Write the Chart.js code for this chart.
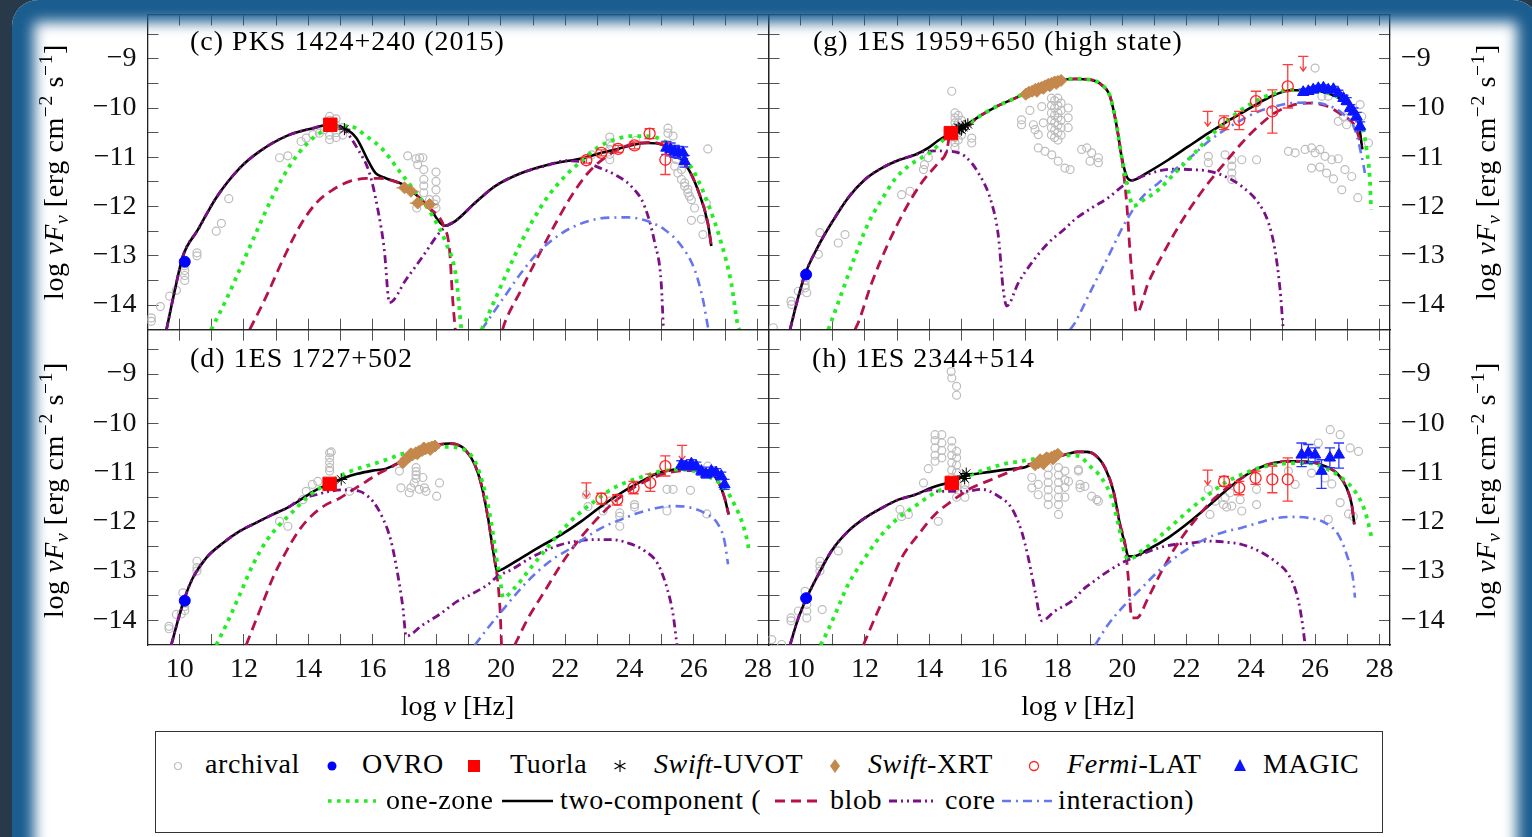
<!DOCTYPE html>
<html><head><meta charset="utf-8">
<script src="https://cdn.jsdelivr.net/npm/chart.js@4.4.1/dist/chart.umd.min.js"></script>
<style>
html,body{margin:0;padding:0;}
body{width:1532px;height:837px;overflow:hidden;position:relative;background:#28394a;font-family:"Liberation Serif","Times New Roman",serif;color:#000;}
#paper{position:absolute;left:12px;top:0;width:1527px;height:900px;background:#fff;border-radius:26px;}
#glow{position:absolute;left:12px;top:0;width:1527px;height:900px;border-radius:26px;box-shadow:inset 0 0 14px 22px #1b5d8f;pointer-events:none;z-index:50;}
canvas.panel{position:absolute;left:0;top:0;z-index:10;}
.t{position:absolute;font-size:28px;line-height:1;white-space:nowrap;z-index:20;}
.lab{letter-spacing:1px;}
.yt{transform:translate(-50%,-50%) rotate(-90deg);letter-spacing:0.6px;}
.xt{transform:translateX(-50%);}
sup,sub{font-size:0.7em;line-height:0;}
sup{vertical-align:0.55em;}
sub{vertical-align:-0.25em;}
#legbox{position:absolute;left:155px;top:731px;width:1228px;height:102px;box-sizing:border-box;border:1.5px solid #333;z-index:15;background:#fff;}
.lg{letter-spacing:0.6px;}
#legsvg{position:absolute;left:0;top:0;z-index:21;}
</style>
</head>
<body>
<div id="paper"></div>
<canvas id="cv_c" class="panel" width="1532" height="837"></canvas>
<canvas id="cv_g" class="panel" width="1532" height="837"></canvas>
<canvas id="cv_d" class="panel" width="1532" height="837"></canvas>
<canvas id="cv_h" class="panel" width="1532" height="837"></canvas>

<div class="t lab" style="left:190px;top:26.5px">(c) PKS 1424+240 (2015)</div>
<div class="t lab" style="left:813px;top:26.5px">(g) 1ES 1959+650 (high state)</div>
<div class="t lab" style="left:190px;top:344px">(d) 1ES 1727+502</div>
<div class="t lab" style="left:812px;top:344px">(h) 1ES 2344+514</div>

<div class="t yt" style="left:54px;top:172px">log <i>ν</i><i>F</i><sub><i>ν</i></sub> [erg cm<sup>−2</sup> s<sup>−1</sup>]</div>
<div class="t yt" style="left:54px;top:490px">log <i>ν</i><i>F</i><sub><i>ν</i></sub> [erg cm<sup>−2</sup> s<sup>−1</sup>]</div>
<div class="t yt" style="left:1486px;top:172px">log <i>ν</i><i>F</i><sub><i>ν</i></sub> [erg cm<sup>−2</sup> s<sup>−1</sup>]</div>
<div class="t yt" style="left:1486px;top:490px">log <i>ν</i><i>F</i><sub><i>ν</i></sub> [erg cm<sup>−2</sup> s<sup>−1</sup>]</div>

<div class="t xt" style="left:457.5px;top:691.5px">log <i>ν</i> [Hz]</div>
<div class="t xt" style="left:1078px;top:691.5px">log <i>ν</i> [Hz]</div>

<div id="legbox"></div>
<div class="t lg" style="left:205px;top:749.5px">archival</div>
<div class="t lg" style="left:362px;top:749.5px">OVRO</div>
<div class="t lg" style="left:510px;top:749.5px">Tuorla</div>
<div class="t lg" style="left:654px;top:749.5px"><i>Swift</i>-UVOT</div>
<div class="t lg" style="left:868px;top:749.5px"><i>Swift</i>-XRT</div>
<div class="t lg" style="left:1067px;top:749.5px"><i>Fermi</i>-LAT</div>
<div class="t lg" style="left:1263px;top:749.5px">MAGIC</div>
<div class="t lg" style="left:386px;top:785.5px">one-zone</div>
<div class="t lg" style="left:560px;top:785.5px">two-component (</div>
<div class="t lg" style="left:830px;top:785.5px">blob</div>
<div class="t lg" style="left:945px;top:785.5px">core</div>
<div class="t lg" style="left:1058px;top:785.5px">interaction)</div>

<svg id="legsvg" width="1532" height="837" xmlns="http://www.w3.org/2000/svg">
  <circle cx="178" cy="766" r="3.5" fill="none" stroke="#bdbdbd" stroke-width="1.2"/>
  <circle cx="332" cy="766" r="4.5" fill="#0000ff"/>
  <rect x="468" y="760" width="12" height="12" fill="#ff0000"/>
  <g stroke="#000" stroke-width="1.1"><line x1="620" y1="760" x2="620" y2="772"/><line x1="614.5" y1="763" x2="625.5" y2="769"/><line x1="614.5" y1="769" x2="625.5" y2="763"/></g>
  <polygon points="835,759 840,766 835,773 830,766" fill="#c4884c"/>
  <circle cx="1034" cy="766" r="4.5" fill="none" stroke="#ff2020" stroke-width="1.3"/>
  <polygon points="1240,759 1246,771 1234,771" fill="#0a14ff"/>
  <line x1="328" y1="801" x2="376" y2="801" stroke="#22ee22" stroke-width="3.6" stroke-dasharray="3.6 5.4"/>
  <line x1="502" y1="801" x2="553" y2="801" stroke="#000" stroke-width="2.6"/>
  <line x1="775" y1="801" x2="818" y2="801" stroke="#b5124a" stroke-width="2.8" stroke-dasharray="10 6"/>
  <line x1="889" y1="801" x2="937" y2="801" stroke="#7b0f86" stroke-width="2.8" stroke-dasharray="8 4 2 4 2 4"/>
  <line x1="1002" y1="801" x2="1052" y2="801" stroke="#6677ee" stroke-width="2.6" stroke-dasharray="9 5 2 5"/>
</svg>

<div id="glow"></div>

<script>
// ---------------- axes ----------------
const X_RANGE = [9, 28.33];
const Y_RANGE = [-14.5, -8.1];
const xTickValues = [9,10,11,12,13,14,15,16,17,18,19,20,21,22,23,24,25,26,27,28];
const xTickLabels = ['','10','','12','','14','','16','','18','','20','','22','','24','','26','','28'];
const yTickValues = [-14,-13.5,-13,-12.5,-12,-11.5,-11,-10.5,-10,-9.5,-9,-8.5];
const yTickLabels = ['\u221214','','\u221213','','\u221212','','\u221211','','\u221210','','\u22129',''];

// ---------------- panel (c) PKS 1424+240 ----------------
const c_archival = [[9.12,-14.26],[9.12,-14.33],[9.4,-14.03],[9.69,-13.82],[9.9,-13.7],[10.16,-13.2],[10.16,-13.3],[10.16,-13.4],[10.16,-13.5],[10.54,-12.94],[10.54,-13.0],[11.14,-12.5],[11.3,-12.34],[11.53,-11.84],[13.11,-11.01],[13.37,-10.97],[13.78,-10.68],[13.94,-10.61],[14.15,-10.54],[14.35,-10.51],[14.51,-10.44],[14.67,-10.17],[14.67,-10.25],[14.67,-10.4],[14.67,-10.55],[14.67,-10.64],[14.87,-10.22],[14.87,-10.35],[14.87,-10.5],[14.87,-10.6],[15.08,-10.4],[15.08,-10.55],[17.1,-10.97],[17.36,-11.03],[17.41,-11.15],[17.47,-11.01],[17.57,-11.01],[17.6,-11.25],[17.6,-11.45],[17.6,-11.58],[17.6,-11.72],[17.98,-11.3],[17.98,-11.49],[17.98,-11.66],[17.98,-11.86],[17.98,-12.03],[17.93,-11.95],[17.78,-11.86],[17.38,-12.03],[22.82,-10.95],[23.39,-10.59],[23.39,-10.71],[23.39,-10.84],[23.39,-10.94],[23.39,-11.05],[23.44,-10.77],[24.2,-10.66],[25.2,-10.41],[25.2,-10.51],[25.36,-10.57],[25.41,-11.18],[25.51,-11.32],[25.62,-11.45],[25.72,-11.59],[25.82,-11.72],[25.93,-11.86],[26.03,-12.03],[26.24,-12.26],[26.29,-12.57],[25.93,-12.28],[26.44,-10.83],[26.39,-11.93],[25.46,-11.05],[25.62,-11.25],[25.72,-11.52],[25.82,-11.65],[25.87,-11.79]];
const c_ovro = [[10.16,-13.12]];
const c_tuorla = [[14.69,-10.34]];
const c_uvot = [[15.13,-10.43]];
const c_xrt = [[17.0,-11.62],[17.2,-11.69],[17.41,-11.93],[17.78,-11.96]];
const c_fermi = [[22.66,-11.06,-11.12,-11.0],[23.13,-10.91,-10.97,-10.85],[23.65,-10.83,-10.9,-10.76],[24.16,-10.76,-10.83,-10.69],[24.63,-10.52,-10.62,-10.42],[25.12,-11.05,-11.35,-10.7]];
const c_fermiUL = [];
const c_magic = [[25.15,-10.81,-10.94,-10.68],[25.28,-10.84,-10.97,-10.71],[25.41,-10.88,-11.0,-10.76],[25.53,-10.9,-11.02,-10.78],[25.67,-10.91,-11.03,-10.79],[25.72,-11.08,-11.2,-10.96]];
const c_oneZone1 = [[10.98,-14.5],[11.45,-13.89],[11.87,-13.28],[12.38,-12.53],[12.9,-11.79],[13.42,-11.18],[13.94,-10.74],[14.46,-10.47],[14.97,-10.37],[15.29,-10.37],[15.81,-10.57],[16.32,-10.84],[16.84,-11.28],[17.36,-11.72],[17.88,-12.2],[18.29,-12.74],[18.6,-13.41],[18.77,-14.5]];
const c_oneZone2 = [[19.4,-14.5],[19.91,-13.75],[20.43,-13.0],[20.95,-12.33],[21.47,-11.79],[21.99,-11.39],[22.5,-11.08],[23.02,-10.8],[23.54,-10.64],[24.06,-10.57],[24.58,-10.57],[25.1,-10.68],[25.62,-10.95],[26.03,-11.32],[26.44,-11.93],[26.86,-12.74],[27.17,-13.55],[27.38,-14.43],[27.42,-14.5]];
const c_twoComp = [[9.59,-14.5],[9.85,-13.7],[10.1,-13.01],[10.57,-12.47],[11.14,-11.82],[11.87,-11.22],[12.49,-10.88],[13.32,-10.57],[14.15,-10.41],[14.67,-10.34],[15.13,-10.41],[15.5,-10.61],[15.9,-11.11],[16.1,-11.32],[16.4,-11.42],[16.95,-11.55],[17.36,-11.76],[17.78,-12.03],[18.24,-12.39],[18.57,-12.3],[19.19,-11.93],[19.81,-11.59],[20.64,-11.32],[21.47,-11.15],[22.61,-11.01],[23.13,-10.91],[23.65,-10.83],[24.16,-10.74],[24.58,-10.71],[25.0,-10.74],[25.41,-10.91],[25.82,-11.22],[26.13,-11.66],[26.44,-12.33],[26.55,-12.8]];
const c_blob1 = [[12.18,-14.5],[12.7,-13.82],[13.22,-13.07],[13.74,-12.4],[14.25,-11.93],[14.77,-11.66],[15.29,-11.49],[15.81,-11.43],[16.22,-11.43],[16.4,-11.44],[16.95,-11.56],[17.36,-11.76],[17.78,-12.03],[18.24,-12.42],[18.4,-12.87],[18.5,-13.89],[18.58,-14.5]];
const c_blob2 = [[20.05,-14.5],[20.12,-14.36],[20.64,-13.68],[21.16,-13.01],[21.68,-12.37],[22.19,-11.79],[22.71,-11.32],[23.23,-11.01],[23.75,-10.81],[24.27,-10.71],[24.79,-10.7],[25.0,-10.74],[25.41,-10.91],[25.82,-11.22],[26.13,-11.66],[26.44,-12.33],[26.55,-12.8]];
const c_core = [[9.59,-14.5],[9.85,-13.7],[10.1,-13.01],[10.57,-12.47],[11.14,-11.82],[11.87,-11.22],[12.49,-10.88],[13.32,-10.57],[14.15,-10.41],[14.67,-10.35],[15.1,-10.43],[15.55,-10.84],[15.91,-11.32],[16.17,-12.06],[16.37,-12.87],[16.53,-13.95],[17.05,-13.48],[17.57,-13.01],[18.09,-12.53],[18.35,-12.38],[18.57,-12.3],[19.19,-11.93],[19.81,-11.59],[20.64,-11.32],[21.47,-11.16],[21.99,-11.07],[22.66,-11.11],[23.02,-11.2],[23.54,-11.35],[24.06,-11.59],[24.47,-11.99],[24.79,-12.74],[24.99,-13.55],[25.06,-14.5]];
const c_interaction = [[19.4,-14.5],[20.12,-13.82],[20.64,-13.34],[21.16,-12.93],[21.68,-12.64],[22.19,-12.43],[22.71,-12.3],[23.23,-12.23],[23.96,-12.22],[24.58,-12.3],[25.1,-12.47],[25.62,-12.8],[26.03,-13.28],[26.29,-13.89],[26.44,-14.43],[26.46,-14.5]];

// ---------------- panel (g) 1ES 1959+650 ----------------
const g_archival = [[9.15,-14.46],[9.7,-13.92],[9.72,-13.99],[9.93,-13.72],[10.19,-13.75],[10.14,-13.5],[10.14,-13.6],[10.14,-13.65],[10.55,-12.97],[10.6,-12.53],[11.17,-12.74],[11.38,-12.57],[13.14,-11.76],[13.4,-11.69],[13.82,-11.25],[13.85,-11.15],[13.97,-11.01],[14.7,-9.66],[14.8,-10.1],[14.8,-10.2],[14.8,-10.3],[14.8,-10.4],[14.8,-10.5],[14.8,-10.6],[14.8,-10.7],[14.8,-10.8],[14.9,-10.15],[14.9,-10.3],[14.9,-10.5],[14.9,-10.65],[15.0,-10.25],[15.0,-10.55],[15.32,-10.61],[15.32,-10.71],[16.87,-10.24],[16.87,-10.34],[17.13,-10.05],[17.24,-10.34],[17.29,-10.44],[17.39,-10.54],[17.5,-9.97],[17.55,-10.3],[17.8,-9.8],[17.8,-9.95],[17.8,-10.1],[17.8,-10.25],[17.8,-10.4],[17.8,-10.55],[17.9,-9.85],[17.9,-10.0],[17.9,-10.15],[17.9,-10.3],[17.9,-10.45],[17.9,-10.6],[18.0,-9.8],[18.0,-9.95],[18.0,-10.1],[18.0,-10.2],[18.0,-10.35],[18.0,-10.5],[18.0,-10.65],[18.1,-9.9],[18.1,-10.05],[18.1,-10.25],[18.1,-10.4],[18.1,-10.55],[18.32,-10.0],[18.32,-10.2],[18.32,-10.4],[17.39,-10.81],[17.6,-10.88],[17.81,-10.95],[18.01,-11.08],[18.22,-11.22],[18.38,-11.25],[18.74,-10.84],[18.9,-10.81],[19.05,-10.91],[19.0,-11.08],[19.26,-11.01],[19.26,-11.11],[22.68,-10.98],[22.68,-11.11],[23.2,-10.95],[23.41,-11.05],[23.41,-11.18],[23.41,-11.32],[23.41,-11.45],[23.72,-11.05],[24.18,-11.05],[25.17,-10.88],[25.38,-10.91],[25.69,-10.84],[25.89,-10.81],[26.0,-10.91],[26.15,-10.84],[26.31,-10.98],[26.52,-11.05],[26.72,-11.03],[25.89,-11.22],[26.15,-11.2],[26.36,-11.32],[26.57,-11.44],[26.93,-11.25],[27.14,-11.39],[26.83,-11.66],[27.33,-11.82],[26.72,-10.27],[26.88,-10.17],[26.98,-10.34],[27.14,-10.07],[27.4,-9.93],[27.45,-10.17],[27.66,-10.71],[26.0,-9.19],[26.21,-9.76],[26.41,-9.76]];
const g_ovro = [[10.17,-13.38]];
const g_tuorla = [[14.67,-10.51]];
const g_uvot = [[14.75,-10.49],[14.85,-10.45],[14.95,-10.42],[15.05,-10.39],[15.13,-10.36],[15.2,-10.33],[14.9,-10.4],[15.0,-10.44]];
const g_xrt = [[17.0,-9.72],[17.1,-9.68],[17.2,-9.66],[17.3,-9.62],[17.4,-9.6],[17.5,-9.58],[17.6,-9.55],[17.7,-9.52],[17.8,-9.5],[17.9,-9.47],[18.0,-9.46],[18.1,-9.44],[17.35,-9.66],[17.55,-9.6],[17.75,-9.55],[17.95,-9.5]];
const g_fermi = [[23.17,-10.3,-10.44,-10.16],[23.64,-10.24,-10.44,-10.07],[24.16,-9.86,-10.07,-9.66],[24.67,-10.07,-10.51,-9.63],[25.15,-9.56,-10.0,-9.12]];
const g_fermiUL = [[22.66,-10.07],[25.63,-8.95]];
const g_magic = [[25.63,-9.68,-9.74,-9.62],[25.79,-9.66,-9.72,-9.6],[25.94,-9.63,-9.69,-9.57],[26.1,-9.6,-9.66,-9.54],[26.26,-9.59,-9.65,-9.53],[26.41,-9.63,-9.69,-9.57],[26.57,-9.62,-9.68,-9.56],[26.72,-9.7,-9.76,-9.64],[26.88,-9.8,-9.86,-9.74],[26.98,-9.86,-9.93,-9.79],[27.09,-10.0,-10.07,-9.93],[27.19,-10.07,-10.14,-10.0],[27.29,-10.17,-10.25,-10.09],[27.4,-10.37,-10.46,-10.28]];
const g_oneZone1 = [[10.86,-14.5],[11.28,-13.75],[11.69,-13.01],[12.11,-12.33],[12.52,-11.86],[12.93,-11.45],[13.35,-11.18],[13.76,-11.01],[14.07,-10.88],[14.39,-10.68],[14.7,-10.47],[15.11,-10.36],[15.63,-10.14],[16.15,-9.95],[16.67,-9.8],[17.08,-9.66],[17.5,-9.56],[18.01,-9.44],[18.53,-9.41],[19.05,-9.43],[19.36,-9.53],[19.62,-9.76],[19.83,-10.37],[19.98,-10.98],[20.14,-11.52],[20.35,-11.99],[20.61,-11.89],[21.13,-11.66],[21.64,-11.32],[22.16,-10.98],[22.68,-10.61],[23.2,-10.3],[23.72,-10.03],[24.24,-9.83],[24.75,-9.7],[25.27,-9.63],[25.79,-9.64],[26.31,-9.68],[26.83,-9.83],[27.24,-10.1],[27.5,-10.44],[27.6,-10.84],[27.71,-11.52],[27.74,-12.06]];
const g_oneZone2 = [];
const g_twoComp = [[9.67,-14.5],[9.88,-13.95],[10.135,-13.38],[10.55,-12.8],[10.965,-12.33],[11.48,-11.82],[12.0,-11.45],[12.52,-11.22],[13.04,-11.06],[13.56,-10.95],[13.97,-10.81],[14.28,-10.66],[14.59,-10.54],[15.11,-10.36],[15.63,-10.14],[16.15,-9.95],[16.67,-9.8],[17.08,-9.66],[17.5,-9.56],[18.01,-9.44],[18.53,-9.41],[19.05,-9.43],[19.36,-9.53],[19.62,-9.76],[19.83,-10.37],[19.98,-10.98],[20.14,-11.39],[20.3,-11.47],[20.81,-11.3],[21.44,-11.05],[22.06,-10.78],[22.68,-10.51],[23.2,-10.3],[23.72,-10.1],[24.24,-9.9],[24.75,-9.73],[25.27,-9.64],[25.79,-9.64],[26.31,-9.68],[26.83,-9.83],[27.14,-10.0],[27.35,-10.3],[27.47,-10.84]];
const g_blob1 = [[11.69,-14.5],[11.79,-14.36],[12.21,-13.55],[12.73,-12.74],[13.25,-12.06],[13.76,-11.52],[14.28,-11.11],[14.54,-10.88],[14.65,-10.52],[15.11,-10.37],[15.63,-10.14],[16.15,-9.95],[16.67,-9.8],[17.08,-9.66],[17.5,-9.56],[18.01,-9.44],[18.53,-9.41],[19.05,-9.43],[19.36,-9.53],[19.62,-9.76],[19.83,-10.37],[19.98,-10.98],[20.14,-11.93],[20.24,-12.87],[20.35,-13.68],[20.45,-14.16],[20.81,-13.55],[21.23,-13.01],[21.64,-12.53],[22.16,-11.99],[22.68,-11.52],[23.2,-11.11],[23.72,-10.71],[24.24,-10.37],[24.75,-10.1],[25.27,-9.95],[25.79,-9.9],[26.31,-9.95],[26.83,-10.14],[27.24,-10.37],[27.45,-10.78]];
const g_blob2 = [];
const g_core = [[9.67,-14.5],[9.88,-13.95],[10.135,-13.38],[10.55,-12.8],[10.965,-12.33],[11.48,-11.82],[12.0,-11.45],[12.52,-11.22],[13.04,-11.06],[13.56,-10.95],[13.87,-10.88],[14.28,-10.87],[14.7,-10.88],[15.11,-10.98],[15.53,-11.32],[15.94,-11.93],[16.15,-12.6],[16.3,-13.68],[16.41,-14.02],[16.77,-13.55],[17.19,-13.14],[17.7,-12.74],[18.22,-12.45],[18.53,-12.26],[19.05,-12.03],[19.57,-11.82],[20.09,-11.55],[20.61,-11.39],[21.13,-11.28],[21.64,-11.24],[22.16,-11.25],[22.68,-11.28],[23.2,-11.39],[23.72,-11.59],[24.24,-11.93],[24.55,-12.33],[24.75,-12.87],[24.91,-13.68],[25.01,-14.5]];
const g_interaction = [[18.38,-14.5],[18.53,-14.36],[19.05,-13.68],[19.57,-13.01],[20.09,-12.33],[20.61,-11.82],[21.13,-11.52],[21.64,-11.25],[22.16,-10.98],[22.68,-10.68],[23.2,-10.44],[23.72,-10.24],[24.24,-10.07],[24.75,-9.97],[25.27,-9.9],[25.79,-9.89],[26.31,-9.93],[26.83,-10.1],[27.24,-10.44],[27.45,-10.98],[27.55,-11.32]];

// ---------------- panel (d) 1ES 1727+502 ----------------
const d_archival = [[9.67,-14.12],[9.67,-14.17],[9.9,-13.88],[10.05,-13.87],[10.1,-13.44],[10.16,-13.65],[10.16,-13.72],[10.16,-13.8],[10.54,-12.8],[10.54,-12.93],[10.54,-13.0],[13.11,-11.99],[13.37,-12.09],[13.84,-11.55],[13.94,-11.38],[14.13,-11.24],[14.3,-11.18],[14.67,-10.6],[14.67,-10.7],[14.67,-10.8],[14.67,-10.9],[14.67,-10.97],[14.72,-10.58],[15.29,-11.38],[16.84,-10.97],[16.89,-11.31],[17.15,-11.41],[17.3,-11.21],[17.36,-10.9],[17.36,-10.98],[17.36,-11.05],[17.36,-11.12],[17.46,-11.34],[17.57,-11.1],[17.62,-11.31],[17.67,-11.38],[18.09,-11.21],[18.0,-11.48],[17.2,-11.31],[22.66,-11.45],[22.71,-11.69],[23.18,-11.78],[23.39,-11.58],[23.7,-11.82],[23.7,-11.89],[23.7,-12.09],[24.16,-11.65],[24.16,-11.7],[25.17,-11.34],[25.36,-11.34],[25.17,-11.78],[25.9,-11.36],[26.41,-11.84],[26.44,-10.87]];
const d_ovro = [[10.16,-13.6]];
const d_tuorla = [[14.67,-11.23]];
const d_uvot = [[15.03,-11.14]];
const d_xrt = [[16.95,-10.8],[17.05,-10.72],[17.15,-10.68],[17.25,-10.64],[17.35,-10.6],[17.45,-10.57],[17.55,-10.55],[17.65,-10.52],[17.75,-10.5],[17.85,-10.48],[17.95,-10.46],[17.2,-10.62],[17.4,-10.62],[17.6,-10.5],[17.8,-10.53]];
const d_fermi = [[23.13,-11.53,-11.64,-11.42],[23.62,-11.55,-11.66,-11.45],[24.13,-11.31,-11.43,-11.18],[24.65,-11.21,-11.38,-11.03],[25.12,-10.87,-11.07,-10.66]];
const d_fermiUL = [[22.66,-11.21],[25.64,-10.45]];
const d_magic = [[25.62,-10.84,-10.92,-10.76],[25.77,-10.87,-10.95,-10.79],[25.93,-10.82,-10.9,-10.74],[26.08,-10.87,-10.95,-10.79],[26.24,-10.97,-11.05,-10.89],[26.39,-11.03,-11.11,-10.95],[26.55,-10.97,-11.05,-10.89],[26.7,-11.0,-11.08,-10.92],[26.86,-11.07,-11.15,-10.99],[26.96,-11.24,-11.34,-11.14]];
const d_oneZone1 = [[11.14,-14.5],[11.45,-14.09],[11.87,-13.48],[12.28,-12.87],[12.7,-12.39],[13.11,-12.06],[13.53,-11.79],[13.94,-11.52],[14.35,-11.32],[14.77,-11.15],[15.18,-11.01],[15.6,-10.91],[16.01,-10.83],[16.43,-10.74],[16.84,-10.64],[17.36,-10.54],[17.88,-10.49],[18.4,-10.48],[18.7,-10.5],[19.19,-10.77],[19.5,-11.38],[19.71,-12.05],[19.86,-12.73],[19.97,-13.14],[20.07,-13.54],[20.43,-13.34],[20.85,-13.0],[21.36,-12.59],[21.88,-12.19],[22.4,-11.85],[22.92,-11.58],[23.44,-11.34],[23.96,-11.18],[24.48,-11.07],[25.0,-10.97],[25.51,-10.94],[26.03,-10.97],[26.55,-11.11],[26.96,-11.31],[27.27,-11.65],[27.53,-12.05],[27.69,-12.46],[27.72,-12.59]];
const d_oneZone2 = [];
const d_twoComp = [[9.74,-14.5],[10.0,-13.88],[10.16,-13.54],[10.41,-13.14],[10.83,-12.73],[11.35,-12.43],[11.87,-12.19],[12.38,-12.02],[12.9,-11.85],[13.42,-11.69],[13.84,-11.52],[14.25,-11.35],[14.67,-11.23],[15.08,-11.12],[15.5,-11.03],[16.01,-10.96],[16.43,-10.92],[16.79,-10.81],[17.05,-10.67],[17.57,-10.52],[18.09,-10.43],[18.4,-10.41],[18.71,-10.45],[18.88,-10.53],[19.19,-10.84],[19.39,-11.24],[19.6,-11.92],[19.76,-12.59],[19.89,-13.0],[20.02,-12.97],[20.64,-12.73],[21.26,-12.49],[21.88,-12.26],[22.5,-11.99],[23.13,-11.68],[23.75,-11.41],[24.37,-11.18],[24.89,-11.01],[25.41,-10.94],[25.93,-10.92],[26.46,-10.97],[26.76,-11.18],[26.96,-11.51],[27.09,-11.85]];
const d_blob1 = [[12.07,-14.5],[12.49,-13.81],[12.9,-13.14],[13.32,-12.6],[13.73,-12.16],[14.15,-11.85],[14.56,-11.65],[14.98,-11.52],[15.39,-11.35],[15.81,-11.18],[16.22,-11.01],[16.64,-10.87],[16.95,-10.74],[17.05,-10.67],[17.57,-10.52],[18.09,-10.43],[18.4,-10.41],[18.71,-10.45],[18.88,-10.53],[19.19,-10.84],[19.39,-11.24],[19.6,-11.92],[19.76,-12.59],[19.89,-13.14],[19.97,-13.74],[20.02,-14.5]];
const d_blob2 = [[20.43,-14.5],[20.85,-13.95],[21.36,-13.41],[21.88,-12.86],[22.4,-12.39],[22.92,-11.99],[23.44,-11.65],[23.96,-11.38],[24.48,-11.18],[25.0,-11.04],[25.51,-10.97],[26.03,-10.96],[26.46,-10.97],[26.76,-11.18],[26.96,-11.51],[27.09,-11.85]];
const d_core = [[9.74,-14.5],[10.0,-13.88],[10.16,-13.54],[10.41,-13.14],[10.83,-12.73],[11.35,-12.43],[11.87,-12.19],[12.38,-12.02],[12.9,-11.85],[13.42,-11.69],[13.73,-11.55],[14.25,-11.45],[14.67,-11.38],[15.18,-11.35],[15.6,-11.38],[16.01,-11.58],[16.32,-11.92],[16.58,-12.39],[16.79,-13.07],[16.95,-13.74],[17.05,-14.32],[17.57,-14.09],[18.09,-13.88],[18.65,-13.61],[19.08,-13.47],[19.6,-13.27],[19.91,-13.1],[20.33,-12.97],[20.85,-12.76],[21.36,-12.59],[21.88,-12.46],[22.4,-12.39],[22.92,-12.36],[23.44,-12.36],[23.96,-12.43],[24.48,-12.59],[24.89,-12.86],[25.2,-13.41],[25.36,-13.88],[25.46,-14.39],[25.48,-14.5]];
const d_interaction = [[19.19,-14.5],[19.6,-14.15],[20.12,-13.74],[20.64,-13.34],[21.16,-13.0],[21.68,-12.73],[22.19,-12.53],[22.71,-12.29],[23.23,-12.09],[23.75,-11.95],[24.27,-11.82],[24.79,-11.73],[25.3,-11.68],[25.82,-11.7],[26.34,-11.82],[26.76,-12.05],[26.96,-12.39],[27.07,-12.86]];

// ---------------- panel (h) 1ES 2344+514 ----------------
const h_archival = [[9.1,-14.39],[9.41,-14.49],[9.7,-13.95],[9.7,-14.01],[9.93,-13.81],[10.19,-13.68],[10.19,-13.81],[10.19,-13.95],[10.14,-13.41],[10.6,-12.8],[10.6,-12.9],[10.6,-13.0],[10.67,-13.78],[11.17,-12.59],[13.09,-11.75],[13.35,-11.85],[13.14,-11.89],[13.82,-11.21],[13.97,-10.92],[14.28,-11.99],[14.18,-10.23],[14.18,-10.35],[14.18,-10.5],[14.18,-10.65],[14.18,-10.77],[14.39,-10.23],[14.39,-10.4],[14.39,-10.55],[14.39,-10.7],[14.7,-10.36],[14.7,-10.5],[14.7,-10.65],[14.7,-10.8],[14.7,-10.95],[14.7,-11.1],[14.85,-10.57],[14.85,-10.7],[14.85,-10.85],[14.85,-11.0],[14.85,-11.15],[14.85,-11.3],[14.85,-11.5],[15.11,-11.24],[15.11,-11.35],[15.11,-11.5],[14.68,-8.95],[14.7,-9.08],[14.85,-9.25],[14.85,-9.43],[17.19,-11.1],[17.19,-11.31],[17.39,-11.24],[17.39,-11.45],[17.7,-10.9],[17.7,-11.05],[17.7,-11.2],[17.7,-11.35],[17.7,-11.5],[17.7,-11.65],[18.02,-10.9],[18.02,-11.05],[18.02,-11.2],[18.02,-11.35],[18.02,-11.5],[18.02,-11.65],[18.02,-11.85],[18.22,-10.97],[18.22,-11.15],[18.22,-11.3],[18.22,-11.5],[18.33,-11.18],[18.64,-10.97],[18.69,-11.31],[18.84,-11.28],[18.64,-10.94],[18.69,-11.24],[19.05,-11.48],[19.21,-11.55],[19.26,-11.58],[22.68,-11.34],[22.73,-11.85],[22.89,-11.58],[23.15,-11.65],[23.2,-11.51],[23.25,-11.7],[23.35,-11.41],[23.41,-11.68],[23.67,-11.55],[23.72,-11.78],[24.18,-11.34],[24.18,-11.65],[25.17,-10.97],[25.38,-11.24],[25.89,-11.01],[26.1,-10.4],[26.31,-11.11],[26.52,-11.23],[26.47,-10.13],[26.78,-10.23],[27.09,-10.5],[27.35,-10.57],[26.78,-11.61],[26.41,-11.95],[27.04,-11.84],[27.19,-11.89]];
const h_ovro = [[10.17,-13.55]];
const h_tuorla = [[14.7,-11.21]];
const h_uvot = [[15.05,-11.07],[15.15,-11.02],[15.1,-11.12],[14.72,-11.21]];
const h_xrt = [[17.29,-10.84],[17.4,-10.8],[17.5,-10.77],[17.6,-10.74],[17.7,-10.72],[17.8,-10.69],[17.9,-10.66],[18.0,-10.63],[17.45,-10.74],[17.65,-10.7],[17.85,-10.72],[17.55,-10.82]];
const h_fermi = [[23.17,-11.18,-11.28,-11.08],[23.64,-11.31,-11.45,-11.18],[24.15,-11.11,-11.24,-10.97],[24.67,-11.14,-11.41,-10.87],[25.15,-11.14,-11.58,-10.7]];
const h_fermiUL = [[22.66,-10.95]];
const h_magic = [[25.58,-10.64,-10.88,-10.4],[25.79,-10.6,-10.82,-10.43],[26.0,-10.64,-10.78,-10.5],[26.2,-10.97,-11.32,-10.74],[26.46,-10.7,-10.9,-10.5],[26.74,-10.64,-10.91,-10.4]];
const h_oneZone1 = [[10.62,-14.5],[10.71,-14.39],[11.07,-13.88],[11.48,-13.27],[12.0,-12.73],[12.52,-12.26],[13.04,-11.92],[13.56,-11.68],[14.07,-11.45],[14.49,-11.31],[14.9,-11.18],[15.32,-11.04],[15.84,-10.92],[16.36,-10.82],[16.87,-10.77],[17.29,-10.72],[17.81,-10.67],[18.33,-10.65],[18.69,-10.67],[18.95,-10.84],[19.36,-11.11],[19.67,-11.51],[19.88,-12.05],[20.09,-12.66],[20.19,-12.76],[20.61,-12.59],[21.13,-12.32],[21.64,-12.02],[22.16,-11.72],[22.68,-11.45],[23.2,-11.21],[23.72,-11.04],[24.24,-10.91],[24.75,-10.84],[25.27,-10.81],[25.79,-10.81],[26.31,-10.91],[26.83,-11.11],[27.24,-11.38],[27.55,-11.78],[27.76,-12.32]];
const h_oneZone2 = [];
const h_twoComp = [[9.67,-14.5],[9.93,-13.95],[10.19,-13.54],[10.55,-13.07],[10.96,-12.59],[11.48,-12.19],[12.0,-11.92],[12.52,-11.72],[13.04,-11.55],[13.56,-11.45],[14.07,-11.31],[14.54,-11.21],[15.11,-11.07],[15.63,-11.01],[16.15,-10.96],[16.67,-10.92],[16.98,-10.89],[17.29,-10.8],[17.81,-10.7],[18.33,-10.62],[18.6,-10.58],[18.9,-10.58],[19.15,-10.64],[19.47,-10.91],[19.73,-11.38],[19.93,-12.05],[20.09,-12.46],[20.19,-12.7],[20.35,-12.7],[20.81,-12.56],[21.44,-12.32],[22.06,-12.02],[22.68,-11.68],[23.2,-11.38],[23.72,-11.11],[24.24,-10.91],[24.75,-10.8],[25.27,-10.77],[25.79,-10.78],[26.31,-10.87],[26.72,-11.04],[26.98,-11.31],[27.14,-11.65],[27.22,-12.05]];
const h_blob1 = [[11.95,-14.5],[12.31,-13.95],[12.73,-13.34],[13.14,-12.73],[13.66,-12.26],[14.18,-11.85],[14.7,-11.58],[15.32,-11.31],[15.94,-11.14],[16.56,-10.97],[17.08,-10.84],[17.29,-10.8],[17.81,-10.7],[18.33,-10.62],[18.6,-10.58],[18.9,-10.58],[19.15,-10.64],[19.47,-10.91],[19.73,-11.38],[19.93,-12.05],[20.09,-12.46],[20.19,-13.14],[20.3,-13.95],[20.45,-13.95],[20.81,-13.54],[21.23,-13.0],[21.64,-12.53],[22.16,-12.05],[22.68,-11.65],[23.2,-11.34],[23.72,-11.11],[24.24,-10.91],[24.75,-10.8],[25.27,-10.77],[25.79,-10.78],[26.31,-10.87],[26.72,-11.04],[26.98,-11.31],[27.14,-11.65],[27.22,-12.05]];
const h_blob2 = [];
const h_core = [[9.67,-14.5],[9.93,-13.95],[10.19,-13.54],[10.55,-13.07],[10.96,-12.59],[11.48,-12.19],[12.0,-11.92],[12.52,-11.72],[13.04,-11.55],[13.56,-11.45],[14.07,-11.35],[14.28,-11.38],[14.7,-11.38],[15.11,-11.38],[15.63,-11.34],[16.15,-11.48],[16.56,-11.72],[16.87,-12.19],[17.08,-12.73],[17.29,-13.41],[17.5,-14.01],[17.91,-13.81],[18.43,-13.61],[18.84,-13.34],[19.05,-13.24],[19.57,-13.0],[20.09,-12.8],[20.61,-12.66],[21.13,-12.53],[21.64,-12.46],[22.16,-12.43],[22.68,-12.39],[23.2,-12.41],[23.72,-12.46],[24.24,-12.59],[24.75,-12.8],[25.17,-13.07],[25.43,-13.47],[25.58,-13.95],[25.67,-14.39],[25.69,-14.5]];
const h_interaction = [[19.16,-14.5],[19.57,-14.08],[20.09,-13.68],[20.61,-13.34],[21.13,-13.0],[21.64,-12.73],[22.16,-12.5],[22.68,-12.32],[23.2,-12.2],[23.72,-12.12],[24.24,-12.02],[24.75,-11.93],[25.27,-11.9],[25.79,-11.92],[26.31,-12.02],[26.72,-12.26],[26.98,-12.66],[27.19,-13.2],[27.24,-13.54]];

// ---------------- builders ----------------
const FONT = "'Liberation Serif','Times New Roman',serif";
const GAP = {x: null, y: null};
const P = a => a.map(p => ({x: p[0], y: p[1]}));

function errData(a, cap) {
  const d = [];
  a.forEach(p => {
    d.push({x: p[0], y: p[2]}, {x: p[0], y: p[3]}, GAP);
    d.push({x: p[0] - cap, y: p[2]}, {x: p[0] + cap, y: p[2]}, GAP);
    d.push({x: p[0] - cap, y: p[3]}, {x: p[0] + cap, y: p[3]}, GAP);
  });
  return d;
}
function ulData(a, cap, len) {
  const d = [];
  a.forEach(p => {
    d.push({x: p[0] - cap, y: p[1]}, {x: p[0] + cap, y: p[1]}, GAP);
    d.push({x: p[0], y: p[1]}, {x: p[0], y: p[1] - len}, GAP);
    d.push({x: p[0] - 0.1, y: p[1] - len + 0.09}, {x: p[0], y: p[1] - len}, {x: p[0] + 0.1, y: p[1] - len + 0.09}, GAP);
  });
  return d;
}
function crossData(a, dx, dy) {
  const d = [];
  a.forEach(p => {
    d.push({x: p[0] - dx, y: p[1]}, {x: p[0] + dx, y: p[1]}, GAP);
    d.push({x: p[0], y: p[1] - dy}, {x: p[0], y: p[1] + dy}, GAP);
  });
  return d;
}
function curveDS(a, color, width, dash, order) {
  return {data: P(a), borderColor: color, borderWidth: width, borderDash: dash, borderCapStyle: 'butt',
    pointRadius: 0, pointHoverRadius: 0, fill: false, showLine: true, cubicInterpolationMode: 'monotone', order: order};
}
function segDS(d, color, width, order) {
  return {data: d, borderColor: color, borderWidth: width, pointRadius: 0, pointHoverRadius: 0,
    showLine: true, spanGaps: false, tension: 0, fill: false, order: order};
}
function markDS(a, style, radius, fill, stroke, bw, order) {
  return {data: P(a), showLine: false, pointStyle: style, pointRadius: radius, pointHoverRadius: radius,
    pointBackgroundColor: fill, pointBorderColor: stroke, pointBorderWidth: bw, order: order};
}

function axisCfg(isX, pos, labels, padTicks) {
  const vals = isX ? xTickValues : yTickValues;
  const labs = isX ? xTickLabels : yTickLabels;
  return {
    type: 'linear', position: pos,
    min: isX ? X_RANGE[0] : Y_RANGE[0], max: isX ? X_RANGE[1] : Y_RANGE[1],
    afterBuildTicks: s => { s.ticks = vals.map(v => ({value: v})); },
    ticks: {display: labels, autoSkip: false, maxRotation: 0, minRotation: 0, padding: padTicks,
      color: '#111', font: {family: FONT, size: 28},
      callback: v => { const i = vals.findIndex(t => Math.abs(t - v) < 1e-9); return i >= 0 ? labs[i] : ''; }},
    grid: {display: true, drawOnChartArea: false, drawTicks: true, tickLength: -11, color: '#555', lineWidth: 1},
    border: {display: true, color: '#222', width: 1.3},
    afterFit: s => {
      if (isX) s.height = labels ? 60 : 0; else s.width = labels ? 90 : 0;
      s.paddingLeft = 0; s.paddingRight = 0; s.paddingTop = 0; s.paddingBottom = 0;
    }
  };
}

function makePanel(id, pad, xLabels, ySide, s) {
  const ds = [
    markDS(s.archival, 'circle', 4, 'rgba(255,255,255,0)', '#bdbdbd', 1.2, 30),
    curveDS(s.twoComp, '#000000', 2.6, [], 20),
    curveDS(s.blob1, '#b5124a', 2.8, [10, 6], 19),
    curveDS(s.blob2, '#b5124a', 2.8, [10, 6], 19),
    curveDS(s.core, '#7b0f86', 2.8, [8, 4, 2, 4, 2, 4], 18),
    curveDS(s.interaction, '#6677ee', 2.6, [9, 5, 2, 5], 17),
    curveDS(s.oneZone1, '#22ee22', 3.8, [3.8, 5.2], 16),
    curveDS(s.oneZone2, '#22ee22', 3.8, [3.8, 5.2], 16),
    segDS(crossData(s.xrt, s.xrtDx, s.xrtDy), '#c4884c', 1.2, 9),
    segDS(errData(s.fermi, 0.16), '#ff3b3b', 1.3, 8),
    segDS(ulData(s.fermiUL, 0.16, 0.3), '#ff3b3b', 1.3, 8),
    segDS(errData(s.magic, 0.16), '#2a36ff', 1.3, 8),
    markDS(s.xrt, 'rectRot', 6, '#c4884c', '#c4884c', 1, 5),
    markDS(s.uvot, 'star', 6, '#000', '#000', 1, 4),
    markDS(s.fermi, 'circle', 5.5, 'rgba(255,255,255,0)', '#ff2020', 1.3, 4),
    markDS(s.magic, 'triangle', 6.5, '#0a14ff', '#0a14ff', 1, 3),
    markDS(s.ovro, 'circle', 5.5, '#0000ff', '#0000ff', 1, 2),
    markDS(s.tuorla, 'rect', 9.5, '#ff0000', '#ff0000', 1, 1)
  ];
  return new Chart(document.getElementById(id), {
    type: 'line',
    data: {datasets: ds},
    options: {
      responsive: false, animation: false, devicePixelRatio: 1, events: [],
      layout: {padding: pad},
      plugins: {legend: {display: false}, tooltip: {enabled: false}},
      scales: {
        x: axisCfg(true, 'bottom', xLabels, 19),
        x2: axisCfg(true, 'top', false, 0),
        y: axisCfg(false, 'left', ySide === 'left', 22),
        y2: axisCfg(false, 'right', ySide === 'right', 22)
      }
    }
  });
}

makePanel('cv_c', {left: 57.5, right: 763.5, top: 14.4, bottom: 507.3}, false, 'left',
  {archival: c_archival, ovro: c_ovro, tuorla: c_tuorla, uvot: c_uvot, xrt: c_xrt, xrtDx: 0.25, xrtDy: 0.08,
   fermi: c_fermi, fermiUL: c_fermiUL, magic: c_magic, oneZone1: c_oneZone1, oneZone2: c_oneZone2,
   twoComp: c_twoComp, blob1: c_blob1, blob2: c_blob2, core: c_core, interaction: c_interaction});
makePanel('cv_g', {left: 768.5, right: 52, top: 14.4, bottom: 507.3}, false, 'right',
  {archival: g_archival, ovro: g_ovro, tuorla: g_tuorla, uvot: g_uvot, xrt: g_xrt, xrtDx: 0.12, xrtDy: 0.04,
   fermi: g_fermi, fermiUL: g_fermiUL, magic: g_magic, oneZone1: g_oneZone1, oneZone2: g_oneZone2,
   twoComp: g_twoComp, blob1: g_blob1, blob2: g_blob2, core: g_core, interaction: g_interaction});
makePanel('cv_d', {left: 57.5, right: 763.5, top: 329.7, bottom: 132}, true, 'left',
  {archival: d_archival, ovro: d_ovro, tuorla: d_tuorla, uvot: d_uvot, xrt: d_xrt, xrtDx: 0.12, xrtDy: 0.04,
   fermi: d_fermi, fermiUL: d_fermiUL, magic: d_magic, oneZone1: d_oneZone1, oneZone2: d_oneZone2,
   twoComp: d_twoComp, blob1: d_blob1, blob2: d_blob2, core: d_core, interaction: d_interaction});
makePanel('cv_h', {left: 768.5, right: 52, top: 329.7, bottom: 132}, true, 'right',
  {archival: h_archival, ovro: h_ovro, tuorla: h_tuorla, uvot: h_uvot, xrt: h_xrt, xrtDx: 0.12, xrtDy: 0.04,
   fermi: h_fermi, fermiUL: h_fermiUL, magic: h_magic, oneZone1: h_oneZone1, oneZone2: h_oneZone2,
   twoComp: h_twoComp, blob1: h_blob1, blob2: h_blob2, core: h_core, interaction: h_interaction});
</script>
</body></html>
